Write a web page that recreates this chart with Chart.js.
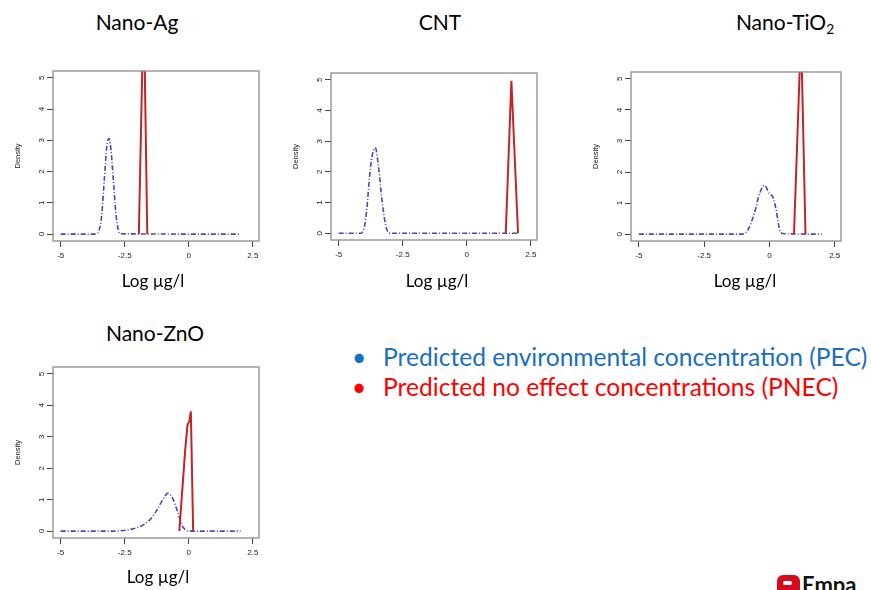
<!DOCTYPE html>
<html>
<head>
<meta charset="utf-8">
<script src="https://cdn.jsdelivr.net/npm/chart.js@4.4.0/dist/chart.umd.min.js"></script>
<style>
  body { margin: 0; width: 871px; height: 590px; background: #fff; position: relative; overflow: hidden; font-family: Lato, "Noto Sans", sans-serif; }
  canvas { position: absolute; }
  .lbl { position: absolute; white-space: nowrap; line-height: 1; color: #000; transform: translateX(-50%); }
  .title { font-size: 21px; }
  .xlab { font-size: 17px; }
  .leg { position: absolute; left: 383px; white-space: nowrap; line-height: 1; font-size: 24.6px; }
  .bul { position: absolute; left: -31px; }
  sub { font-size: 0.65em; vertical-align: -0.3em; line-height: 0; }
</style>
</head>
<body>
<div class="lbl title" style="left:137px;top:11px">Nano-Ag</div>
<div class="lbl title" style="left:440px;top:11px">CNT</div>
<div class="lbl title" style="left:785px;top:11px">Nano-TiO<sub>2</sub></div>
<div class="lbl title" style="left:155px;top:322px">Nano-ZnO</div>

<canvas id="ag" width="265" height="215" style="left:5px;top:60px"></canvas>
<canvas id="cnt" width="265" height="212" style="left:283px;top:62px"></canvas>
<canvas id="tio2" width="269" height="214" style="left:583px;top:61px"></canvas>
<canvas id="zno" width="265" height="216" style="left:5px;top:356px"></canvas>

<div class="lbl xlab" style="left:153px;top:272px">Log µg/l</div>
<div class="lbl xlab" style="left:437px;top:272px">Log µg/l</div>
<div class="lbl xlab" style="left:745px;top:272px">Log µg/l</div>
<div class="lbl xlab" style="left:158px;top:568px">Log µg/l</div>

<div class="leg" style="top:345px;color:#1a6fc0"><span class="bul">•</span>Predicted environmental concentration (PEC)</div>
<div class="leg" style="top:375px;color:#ff0000"><span class="bul">•</span>Predicted no effect concentrations (PNEC)</div>

<div style="position:absolute;left:777px;top:575px;width:23px;height:20px;background:#d40d1e;border-radius:6px 6px 0 0"></div>
<div style="position:absolute;left:783px;top:581px;width:9px;height:4px;background:#fff;border-radius:2px"></div>
<div style="position:absolute;left:802px;top:574px;font:bold 22px Lato, sans-serif;line-height:1;color:#111">Empa</div>

<script>
// axis ticks shared by all four panels
const xTicks = [-5, -2.5, 0, 2.5];
const yTicks = [0, 1, 2, 3, 4, 5];

// Nano-Ag
const agPecX = [-5, -3.7, -3.6, -3.5, -3.4, -3.3, -3.2, -3.12, -3.05, -2.95, -2.85, -2.75, -2.65, 2.02];
const agPecY = [0, 0, 0.02, 0.12, 0.6, 1.7, 2.8, 3.06, 2.8, 1.8, 0.7, 0.12, 0.01, 0];
const agPnecX = [-1.95, -1.76, -1.62];
const agPnecY = [0, 7.5, 0];

// CNT
const cntPecX = [-5, -4.15, -4.0, -3.9, -3.8, -3.7, -3.57, -3.45, -3.3, -3.15, -3.0, 1.98];
const cntPecY = [0, 0, 0.2, 0.8, 1.8, 2.5, 2.78, 2.2, 1.0, 0.2, 0, 0];
const cntPnecX = [1.52, 1.74, 2.0];
const cntPnecY = [0, 4.97, 0];

// Nano-TiO2
const tio2PecX = [-5, -1.1, -0.83, -0.58, -0.38, -0.19, 0, 0.13, 0.26, 0.38, 0.51, 2.0];
const tio2PecY = [0, 0, 0.13, 0.66, 1.3, 1.57, 1.3, 1.2, 0.77, 0.18, 0.02, 0];
const tio2PnecX = [0.94, 1.21, 1.38];
const tio2PnecY = [0, 6.5, 0];

// Nano-ZnO
const znoPecX = [-5, -3.0, -2.44, -1.92, -1.53, -1.28, -1.02, -0.82, -0.63, -0.44, -0.27, -0.11, 0.05, 2.02];
const znoPecY = [0, 0, 0.03, 0.14, 0.35, 0.62, 0.99, 1.2, 1.04, 0.62, 0.19, 0.03, 0, 0];
const znoPnecX = [-0.37, -0.14, -0.05, 0.02, 0.08, 0.17];
const znoPnecY = [0, 2.59, 3.38, 3.49, 3.81, 0];

const toPoints = (xs, ys) => xs.map((x, i) => ({ x: x, y: ys[i] }));

// grey box round the plot region, like R's box()
const frame = {
    id: "frame",
    afterDatasetsDraw(chart) {
        const { ctx, chartArea: a } = chart;
        ctx.save();
        ctx.strokeStyle = "#8c8c8c";
        ctx.lineWidth = 1.3;
        ctx.strokeRect(a.left, a.top, a.right - a.left, a.bottom - a.top);
        ctx.restore();
    },
};

const tickFont = { family: "'Liberation Sans', Arial, sans-serif", size: 8 };
const titleFont = { family: "'Liberation Sans', Arial, sans-serif", size: 7.5 };

function densityChart(id, pecX, pecY, pnecX, pnecY) {
    new Chart(document.getElementById(id), {
        type: "scatter",
        data: {
            datasets: [
                {
                    data: toPoints(pnecX, pnecY),
                    showLine: true,
                    borderColor: "#c42428",
                    borderWidth: 2,
                    pointRadius: 0,
                    tension: 0,
                },
                {
                    data: toPoints(pecX, pecY),
                    showLine: true,
                    borderColor: "#4848b8",
                    borderWidth: 1.6,
                    borderDash: [5, 2, 1, 2],
                    pointRadius: 0,
                    cubicInterpolationMode: "monotone",
                },
            ],
        },
        options: {
            responsive: false,
            animation: false,
            events: [],
            layout: { padding: { top: 11, right: 11, left: 0, bottom: 0 } },
            plugins: { legend: { display: false }, tooltip: { enabled: false } },
            scales: {
                x: {
                    type: "linear",
                    min: -5.3,
                    max: 2.74,
                    afterBuildTicks: (s) => { s.ticks = xTicks.map((v) => ({ value: v })); },
                    afterFit: (s) => { s.height = 34; },
                    ticks: { font: tickFont, color: "#222", padding: 4, maxRotation: 0 },
                    grid: { drawOnChartArea: false, tickLength: 6, color: "#444" },
                    border: { display: false },
                },
                y: {
                    type: "linear",
                    min: -0.22,
                    max: 5.22,
                    afterBuildTicks: (s) => { s.ticks = yTicks.map((v) => ({ value: v })); },
                    afterFit: (s) => { s.width = 48; },
                    ticks: { font: tickFont, color: "#222", padding: 3, minRotation: 90, maxRotation: 90, crossAlign: "center" },
                    grid: { drawOnChartArea: false, tickLength: 6, color: "#444" },
                    border: { display: false },
                    title: { display: true, text: "Density", font: titleFont, color: "#222", padding: { top: 8, bottom: 0 } },
                },
            },
        },
        plugins: [frame],
    });
}

densityChart("ag", agPecX, agPecY, agPnecX, agPnecY);
densityChart("cnt", cntPecX, cntPecY, cntPnecX, cntPnecY);
densityChart("tio2", tio2PecX, tio2PecY, tio2PnecX, tio2PnecY);
densityChart("zno", znoPecX, znoPecY, znoPnecX, znoPnecY);
</script>
</body>
</html>
